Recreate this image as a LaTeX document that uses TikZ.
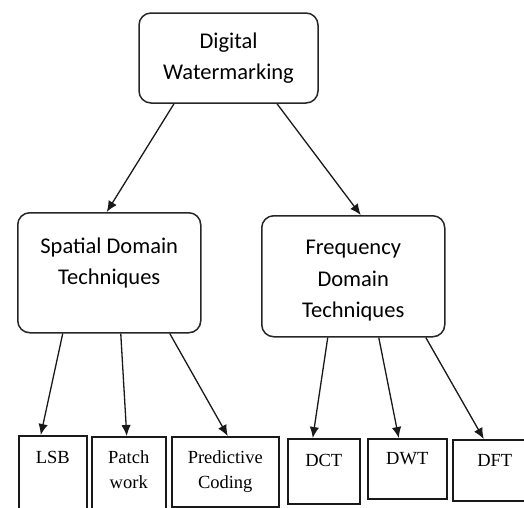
\documentclass[tikz,border=0pt]{standalone}
\usepackage{fontspec}
\newfontfamily\calibrifont{Carlito}
\newfontfamily\timesfont{Liberation Serif}
\usetikzlibrary{arrows.meta,positioning}

\begin{document}
\begin{tikzpicture}[x=1pt, y=-1pt,
    rbox/.style={draw=black!85, line width=1.5pt, rounded corners=12pt, align=center,
      font=\calibrifont\fontsize{22.5}{31.5}\selectfont},
    leaf/.style={draw=black!90, line width=1.5pt, align=center, anchor=north west,
      inner sep=0pt, font=\timesfont\fontsize{18.5}{25}\selectfont},
    arrow/.style={-{Latex[length=11pt,width=9.5pt]}, line width=1.3pt, draw=black!90}
  ]
    \useasboundingbox (0,0) rectangle (524,507);
    % upper levels
    \node[rbox, minimum width=179pt, minimum height=90pt] (wm) at (228.5,58) {Digital\\Watermarking};
    \node[rbox, anchor=north west, inner sep=0pt, minimum width=183pt,
      text height=72pt, text depth=48pt] (spatial) at (17,212) {Spatial Domain\\Techniques};
    \node[rbox, anchor=north west, inner sep=0pt, minimum width=183pt,
      text height=102pt, text depth=19pt] (freq) at (261,215) {Frequency\\Domain\\Techniques};
    % leaves
    \node[leaf, minimum width=68pt, text height=28pt, text depth=47pt] (lsb) at (18,435) {LSB};
    \node[leaf, minimum width=74pt, text height=52pt, text depth=22pt] (patch) at (91,436) {Patch\\work};
    \node[leaf, minimum width=107pt, text height=52pt, text depth=18pt] (pred) at (171,436) {Predictive\\Coding};
    \node[leaf, minimum width=72pt, text height=28pt, text depth=37pt] (dct) at (287,438) {DCT};
    \node[leaf, minimum width=79pt, text height=26pt, text depth=34pt] (dwt) at (367,438) {DWT};
    \node[leaf, minimum width=84pt, text height=27pt, text depth=34pt] (dft) at (452,439) {DFT};
    % connectors
    \draw[arrow] ([xshift=-54.5pt]wm.south) -- ([xshift=-2.5pt]spatial.north);
    \draw[arrow] ([xshift=48.5pt]wm.south) -- ([xshift=7.5pt]freq.north);
    \draw[arrow] ([xshift=-46.5pt]spatial.south) -- ([xshift=-12pt]lsb.north);
    \draw[arrow] ([xshift=11.5pt]spatial.south) -- ([xshift=-2pt]patch.north);
    \draw[arrow] ([xshift=60.5pt]spatial.south) -- ([xshift=2.5pt]pred.north);
    \draw[arrow] ([xshift=-25.5pt]freq.south) -- ([xshift=-11pt]dct.north);
    \draw[arrow] ([xshift=25.5pt]freq.south) -- ([xshift=-8.5pt]dwt.north);
    \draw[arrow] ([xshift=72.5pt]freq.south) -- ([xshift=-11pt]dft.north);
  \end{tikzpicture}
\end{document}
